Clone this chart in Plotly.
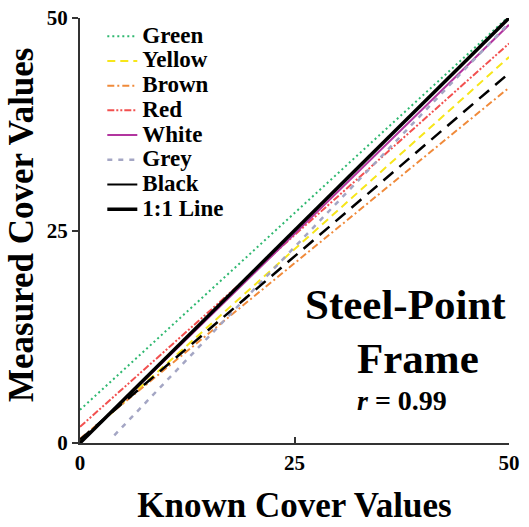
import plotly.graph_objects as go

# Regression lines of measured vs known cover, one per colour class
series_names = ["Green", "Yellow", "Brown", "Red", "White", "Grey", "Black"]
x_start = [0, 0, 0, 0, 0, 4, 0]
x_end = [50, 50, 50, 50, 50, 50, 50]
y_start = [3.9, 0.2, 0.5, 1.9, 0.0, 0.9, 0.4]
y_end = [50.2, 45.4, 41.8, 47.0, 49.2, 49.4, 43.5]

# reference 1:1 line
one_to_one_x = [0, 50]
one_to_one_y = [0, 50]

x_ticks = [0, 25, 50]
y_ticks = [0, 25, 50]

colors = ["#2fb870", "#f7e61a", "#f08a3a", "#f2504f", "#b2359f", "#a4a6c4", "#000000"]
dashes = ["2px,3px", "8px,5px", "7px,3px,2px,3px", "7px,2px,2px,2px,2px,2px",
          "solid", "5px,6px", "13px,8px"]
widths = [2, 2, 2, 2, 2, 2.5, 2.5]

SERIF = "Liberation Serif"
KEY_TEXT = "<span style='font-size:23px'>{}</span>"

fig = go.Figure()

for i, name in enumerate(series_names):
    xs = [x_start[i], x_end[i]]
    ys = [y_start[i], y_end[i]]
    if name == "Black":
        # plotted with long dashes, listed in the key as a plain line
        fig.add_trace(go.Scatter(x=xs, y=ys, mode="lines", name=KEY_TEXT.format(name),
                                 legendgroup=name, showlegend=False,
                                 line=dict(color=colors[i], width=widths[i], dash=dashes[i])))
        fig.add_trace(go.Scatter(x=[None], y=[None], mode="lines", name=KEY_TEXT.format(name),
                                 legendgroup=name,
                                 line=dict(color=colors[i], width=2, dash="solid")))
    else:
        fig.add_trace(go.Scatter(x=xs, y=ys, mode="lines", name=KEY_TEXT.format(name),
                                 line=dict(color=colors[i], width=widths[i], dash=dashes[i])))

fig.add_trace(go.Scatter(x=one_to_one_x, y=one_to_one_y, mode="lines",
                         name=KEY_TEXT.format("1:1 Line"),
                         line=dict(color="#000000", width=3.5)))

label_font = dict(family=SERIF, color="#000000", weight="bold")
fig.add_annotation(x=0.7576, y=0.327, xref="paper", yref="paper", showarrow=False,
                   text="Steel-Point", xanchor="center", yanchor="middle",
                   font=dict(size=43, **label_font))
fig.add_annotation(x=0.788, y=0.198, xref="paper", yref="paper", showarrow=False,
                   text="Frame", xanchor="center", yanchor="middle",
                   font=dict(size=43, **label_font))
fig.add_annotation(x=0.7506, y=0.101, xref="paper", yref="paper", showarrow=False,
                   text="<i>r</i> = 0.99", xanchor="center", yanchor="middle",
                   font=dict(size=28, **label_font))

# vertical axis title
fig.add_annotation(x=-0.135, y=0.513, xref="paper", yref="paper", showarrow=False,
                   text="Measured Cover Values", textangle=-90,
                   xanchor="center", yanchor="middle",
                   font=dict(size=35, **label_font))

axis_common = dict(
    showgrid=False, zeroline=False, showline=True, linecolor="#333333", linewidth=2,
    ticklen=6, tickwidth=2, tickcolor="#333333",
    tickfont=dict(family=SERIF, size=21, color="#000000", weight="bold"),
    range=[0, 50], fixedrange=True, automargin=False,
)

fig.update_xaxes(**axis_common, tickvals=x_ticks, ticks="inside",
                 title=dict(text="Known Cover Values", standoff=18,
                            font=dict(family=SERIF, size=35, color="#000000", weight="bold")))
fig.update_yaxes(**axis_common, tickvals=y_ticks, ticks="outside")

fig.update_layout(
    width=529, height=527,
    margin=dict(l=80, r=20, t=18, b=84, autoexpand=False),
    paper_bgcolor="white", plot_bgcolor="white",
    showlegend=True,
    legend=dict(x=0.052, y=0.998, xanchor="left", yanchor="top",
                bgcolor="rgba(0,0,0,0)", borderwidth=0,
                font=dict(family=SERIF, size=16.7, color="#000000", weight="bold"),
                itemwidth=30, tracegroupgap=0),
)

fig.write_html("out.html")
